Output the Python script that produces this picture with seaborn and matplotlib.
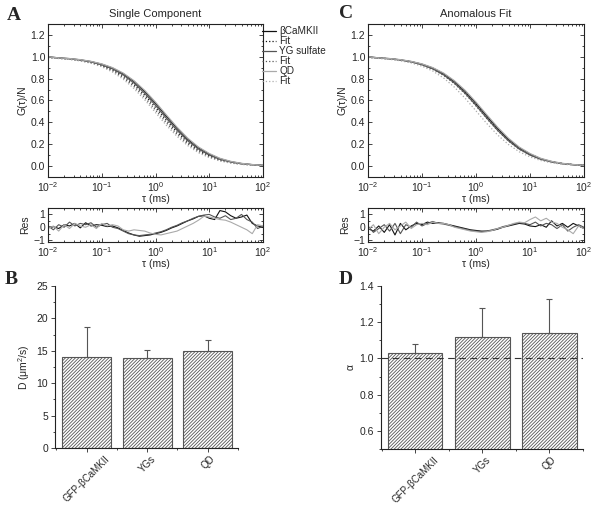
import numpy as np
import pandas as pd
import matplotlib
matplotlib.use("Agg")
import matplotlib.pyplot as plt
import seaborn as sns
from matplotlib.ticker import LogLocator, MultipleLocator, NullFormatter

# ---------------- data ----------------
tau = [0.01, 0.0158, 0.0251, 0.0398, 0.0631, 0.1, 0.158, 0.251, 0.398, 0.631,
       1.0, 1.58, 2.51, 3.98, 6.31, 10.0, 15.8, 25.1, 39.8, 63.1, 100.0]

cam_data = [1.000, 0.990, 0.983, 0.972, 0.956, 0.932, 0.897, 0.845, 0.774, 0.683,
            0.575, 0.459, 0.346, 0.246, 0.167, 0.109, 0.067, 0.040, 0.023, 0.013, 0.007]
yg_data = [0.998, 0.988, 0.981, 0.970, 0.953, 0.927, 0.890, 0.835, 0.760, 0.666,
           0.556, 0.440, 0.328, 0.232, 0.156, 0.101, 0.062, 0.037, 0.021, 0.012, 0.006]
qd_data = [1.000, 0.990, 0.984, 0.974, 0.958, 0.935, 0.901, 0.851, 0.781, 0.692,
           0.585, 0.470, 0.356, 0.255, 0.174, 0.115, 0.071, 0.043, 0.025, 0.014, 0.007]

cam_fitA = [0.995, 0.987, 0.980, 0.967, 0.949, 0.921, 0.882, 0.824, 0.746, 0.648,
            0.536, 0.420, 0.310, 0.218, 0.145, 0.093, 0.057, 0.034, 0.019, 0.011, 0.006]
yg_fitA = [0.994, 0.986, 0.978, 0.965, 0.945, 0.915, 0.872, 0.810, 0.728, 0.627,
           0.513, 0.398, 0.291, 0.203, 0.134, 0.085, 0.052, 0.031, 0.017, 0.010, 0.005]
qd_fitA = [0.993, 0.984, 0.976, 0.962, 0.941, 0.909, 0.861, 0.795, 0.709, 0.606,
           0.490, 0.375, 0.272, 0.187, 0.122, 0.077, 0.046, 0.027, 0.015, 0.009, 0.004]

cam_fitC = [0.996, 0.989, 0.982, 0.971, 0.955, 0.930, 0.894, 0.841, 0.769, 0.678,
            0.570, 0.455, 0.343, 0.244, 0.166, 0.109, 0.068, 0.041, 0.024, 0.014, 0.008]
yg_fitC = [0.995, 0.987, 0.980, 0.968, 0.951, 0.924, 0.886, 0.830, 0.754, 0.660,
           0.550, 0.435, 0.325, 0.230, 0.155, 0.101, 0.063, 0.038, 0.022, 0.012, 0.006]
qd_fitC = [0.994, 0.985, 0.977, 0.964, 0.944, 0.914, 0.870, 0.806, 0.722, 0.620,
           0.505, 0.390, 0.285, 0.198, 0.131, 0.084, 0.051, 0.030, 0.017, 0.010, 0.005]

tau_res = [0.01, 0.0126, 0.0158, 0.02, 0.0251, 0.0316, 0.0398, 0.0501, 0.0631, 0.0794,
           0.1, 0.126, 0.158, 0.2, 0.251, 0.316, 0.398, 0.501, 0.631, 0.794,
           1.0, 1.26, 1.58, 2.0, 2.51, 3.16, 3.98, 5.01, 6.31, 7.94,
           10.0, 12.6, 15.8, 20.0, 25.1, 31.6, 39.8, 50.1, 63.1, 79.4, 100.0]

resA_cam = [0.0, 0.05, -0.1, 0.2, 0.1, 0.3, -0.05, 0.35, 0.1, 0.2,
            0.15, 0.05, 0.1, -0.05, -0.25, -0.45, -0.6, -0.7, -0.65, -0.6,
            -0.5, -0.4, -0.25, -0.05, 0.1, 0.3, 0.5, 0.65, 0.85, 0.9,
            0.7, 0.6, 1.3, 1.2, 0.9, 0.7, 0.8, 0.95, 0.3, 0.1, 0.0]
resA_yg = [0.1, -0.2, 0.2, 0.0, 0.4, 0.1, 0.3, 0.2, 0.35, 0.0,
           0.2, 0.3, 0.0, -0.1, -0.3, -0.5, -0.6, -0.65, -0.6, -0.55,
           -0.45, -0.35, -0.2, 0.0, 0.15, 0.35, 0.5, 0.7, 0.85, 0.95,
           1.0, 0.8, 0.7, 0.9, 0.6, 0.7, 1.0, 0.6, 0.4, -0.1, 0.1]
resA_qd = [-0.1, 0.1, -0.3, 0.2, -0.1, 0.3, 0.1, 0.0, 0.2, -0.1,
           0.3, 0.1, 0.2, 0.1, -0.2, -0.3, -0.2, -0.25, -0.3, -0.45,
           -0.55, -0.6, -0.5, -0.4, -0.3, -0.1, 0.1, 0.3, 0.55, 0.85,
           0.8, 0.7, 0.6, 0.55, 0.4, 0.2, 0.0, -0.2, -0.5, 0.2, 0.1]

resC_cam = [-0.1, -0.3, 0.1, -0.4, 0.2, -0.6, 0.3, -0.2, 0.1, 0.3,
            0.2, 0.4, 0.3, 0.35, 0.3, 0.2, 0.1, 0.0, -0.1, -0.2,
            -0.25, -0.3, -0.3, -0.25, -0.15, 0.0, 0.1, 0.2, 0.3, 0.25,
            0.1, 0.05, 0.2, 0.0, 0.5, 0.1, 0.3, 0.0, 0.3, 0.1, -0.1]
resC_yg = [0.1, -0.4, -0.1, 0.2, -0.3, 0.3, -0.5, 0.2, 0.0, 0.4,
           0.1, 0.3, 0.45, 0.3, 0.25, 0.15, 0.05, -0.05, -0.15, -0.25,
           -0.3, -0.35, -0.3, -0.2, -0.1, 0.05, 0.15, 0.25, 0.35, 0.3,
           0.2, 0.4, 0.1, 0.3, 0.2, -0.1, 0.2, -0.3, 0.0, 0.2, 0.0]
resC_qd = [-0.2, 0.2, -0.5, 0.0, 0.3, -0.2, 0.1, 0.4, -0.1, 0.2,
           0.3, 0.2, 0.4, 0.3, 0.3, 0.2, 0.0, -0.1, -0.2, -0.3,
           -0.35, -0.4, -0.35, -0.25, -0.1, 0.0, 0.15, 0.3, 0.4, 0.35,
           0.6, 0.8, 0.5, 0.7, 0.4, 0.3, 0.0, -0.2, -0.5, 0.1, -0.1]

categories = ["GFP-βCaMKII", "YGs", "QD"]
D_vals = [14.1, 13.9, 15.0]
D_err = [4.6, 1.2, 1.6]
alpha_vals = [1.03, 1.12, 1.14]
alpha_err = [0.05, 0.16, 0.19]

legend_labels = ["βCaMKII", "Fit", "YG sulfate", "Fit", "QD", "Fit"]

# ---------------- style ----------------
sns.set_theme(style="ticks")
plt.rcParams["font.family"] = ["Liberation Sans", "DejaVu Sans"]
plt.rcParams["mathtext.fontset"] = "custom"
plt.rcParams["mathtext.rm"] = "Liberation Sans"
plt.rcParams["mathtext.it"] = "Liberation Sans:italic"
plt.rcParams["hatch.linewidth"] = 0.6
plt.rcParams["axes.linewidth"] = 0.8

FS = 7.5
C_BLACK = "#111111"
C_DARK = "#555555"
C_LIGHT = "#aaaaaa"

fig = plt.figure(figsize=(6.0, 5.05), dpi=100)

def fig_axes(x0, y0, x1, y1):
    W, H = 600.0, 505.0
    return fig.add_axes([x0 / W, 1 - y1 / H, (x1 - x0) / W, (y1 - y0) / H])

def style_log(ax):
    ax.set_xscale("log")
    ax.set_xlim(0.01, 100)
    ax.xaxis.set_major_locator(LogLocator(base=10, numticks=10))
    ax.xaxis.set_minor_locator(LogLocator(base=10, subs=np.arange(2, 10), numticks=10))
    ax.xaxis.set_minor_formatter(NullFormatter())
    ax.tick_params(which="both", direction="in", top=True, right=True,
                   labelsize=FS, pad=2, width=0.6)
    ax.tick_params(which="major", length=3)
    ax.tick_params(which="minor", length=1.5)
    ax.set_xlabel("τ (ms)", fontsize=FS, labelpad=0)
    for s in ax.spines.values():
        s.set_linewidth(0.8)
        s.set_color("#222222")

def draw_main(ax, fits, title):
    series = [(cam_data, C_BLACK, "-"), (fits[0], C_BLACK, ":"),
              (yg_data, C_DARK, "-"), (fits[1], C_DARK, ":"),
              (qd_data, C_LIGHT, "-"), (fits[2], C_LIGHT, ":")]
    for (vals, col, ls), lab in zip(series, legend_labels):
        sns.lineplot(x=tau, y=vals, ax=ax, color=col, linestyle=ls, lw=0.9,
                     label=lab, legend=False)
    style_log(ax)
    ax.set_ylim(-0.1, 1.3)
    ax.yaxis.set_major_locator(MultipleLocator(0.2))
    ax.yaxis.set_minor_locator(MultipleLocator(0.1))
    ax.yaxis.set_major_formatter(matplotlib.ticker.FormatStrFormatter("%.1f"))
    ax.set_ylabel("G(τ)/N", fontsize=FS, labelpad=2)
    ax.set_title(title, fontsize=FS + 0.5, pad=5)

def draw_res(ax, rs):
    for vals, col in zip(rs, [C_BLACK, C_DARK, C_LIGHT]):
        sns.lineplot(x=tau_res, y=vals, ax=ax, color=col, lw=0.8, legend=False)
    style_log(ax)
    ax.set_ylim(-1.15, 1.5)
    ax.set_yticks([-1, 0, 1])
    ax.yaxis.set_minor_locator(MultipleLocator(0.5))
    ax.set_ylabel("Res", fontsize=FS, labelpad=2)

axA = fig_axes(48, 24, 263, 177)
draw_main(axA, [cam_fitA, yg_fitA, qd_fitA], "Single Component")
axAr = fig_axes(48, 208, 263, 242)
draw_res(axAr, [resA_cam, resA_yg, resA_qd])

axC = fig_axes(368, 24, 584, 177)
draw_main(axC, [cam_fitC, yg_fitC, qd_fitC], "Anomalous Fit")
axCr = fig_axes(368, 208, 584, 242)
draw_res(axCr, [resC_cam, resC_yg, resC_qd])

h, l = axA.get_legend_handles_labels()
leg = fig.legend(h, l, loc="upper left", bbox_to_anchor=(262 / 600, 1 - 26 / 505),
                 frameon=False, fontsize=7.2, handlelength=1.4, handletextpad=0.3,
                 labelspacing=0.0, borderpad=0, borderaxespad=0)

def draw_bars(ax, vals, errs, ylim, ticks, ylabel, xlim):
    df = pd.DataFrame({"cat": categories, "val": vals})
    sns.barplot(data=df, x="cat", y="val", ax=ax, color="white", width=0.81,
                edgecolor=C_DARK, linewidth=0.8, errorbar=None, saturation=1)
    for p in ax.patches:
        p.set_hatch("//////////")
        p.set_edgecolor(C_DARK)
        p.set_facecolor("white")
    ax.errorbar(x=[0, 1, 2], y=vals, yerr=[[0, 0, 0], errs], fmt="none",
                ecolor=C_DARK, elinewidth=0.8, capsize=2.5, capthick=0.8, zorder=3)
    ax.set_ylim(*ylim)
    ax.set_xlim(*xlim)
    ax.set_yticks(ticks)
    sns.despine(ax=ax)
    ax.set_xlabel("")
    ax.set_ylabel(ylabel, fontsize=FS, labelpad=3)
    ax.tick_params(axis="y", labelsize=FS, direction="out", length=3, width=0.6, pad=2)
    ax.tick_params(axis="x", labelsize=7, direction="out", length=3, width=0.6, pad=1)
    ax.set_xticks([0, 1, 2])
    ax.set_xticklabels(categories, rotation=45, ha="center", va="top")
    ax.set_xticks([-0.5, 0.5, 1.5, 2.5], minor=True)
    ax.tick_params(axis="x", which="minor", direction="out", length=1.5, width=0.6)
    for s in ax.spines.values():
        s.set_linewidth(0.8)
        s.set_color("#222222")

axB = fig_axes(55, 286, 238, 448)
draw_bars(axB, D_vals, D_err, (0, 25), [0, 5, 10, 15, 20, 25],
          "D (μm$^2$/s)", (-0.52, 2.5))
axB.yaxis.set_minor_locator(MultipleLocator(2.5))
axB.tick_params(axis="y", which="minor", direction="out", length=1.5, width=0.6)

axD = fig_axes(381, 286, 583, 449)
draw_bars(axD, alpha_vals, alpha_err, (0.5, 1.4), [0.6, 0.8, 1.0, 1.2, 1.4],
          "α", (-0.51, 2.49))
axD.yaxis.set_major_formatter(matplotlib.ticker.FormatStrFormatter("%.1f"))
axD.yaxis.set_minor_locator(MultipleLocator(0.1))
axD.tick_params(axis="y", which="minor", direction="out", length=1.5, width=0.6)
axD.axhline(1.0, color="#333333", lw=0.8, ls=(0, (6, 4)), zorder=4)

for letter, x, y in [("A", 14, 16), ("B", 11, 279), ("C", 346, 13), ("D", 346, 279)]:
    fig.text(x / 600, 1 - y / 505, letter, fontsize=14, fontweight="bold",
             family="Liberation Serif", ha="center", va="center")

fig.savefig("out.png", dpi=100)
